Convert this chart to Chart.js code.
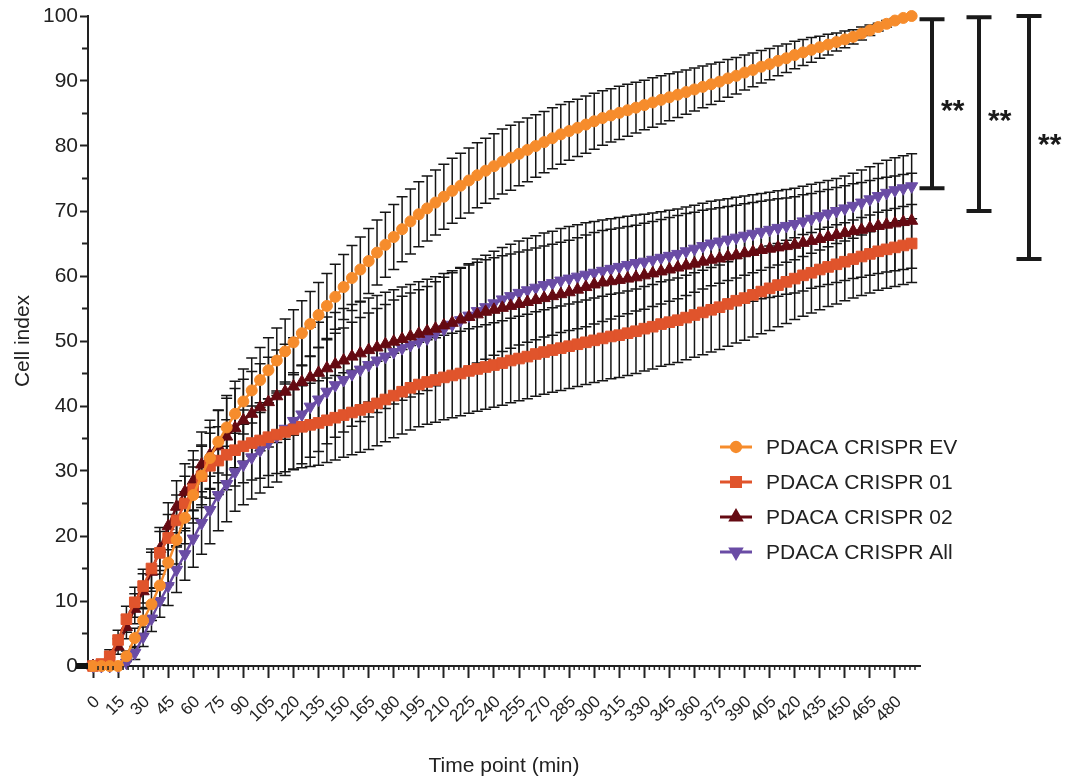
<!DOCTYPE html>
<html>
<head>
<meta charset="utf-8">
<script src="https://cdn.jsdelivr.net/npm/chart.js@4.4.1/dist/chart.umd.min.js"></script>
<style>
  body { margin: 0; background: #fff; }
  #contenedor { width: 1075px; height: 780px; }
</style>
</head>
<body>
<div id="contenedor"><canvas id="grafico"></canvas></div>
<script>
// tiempos (min), un punto cada 5 min
const tiempos = [
  0, 5, 10, 15, 20, 25, 30, 35, 40, 45,
  50, 55, 60, 65, 70, 75, 80, 85, 90, 95,
  100, 105, 110, 115, 120, 125, 130, 135, 140, 145,
  150, 155, 160, 165, 170, 175, 180, 185, 190, 195,
  200, 205, 210, 215, 220, 225, 230, 235, 240, 245,
  250, 255, 260, 265, 270, 275, 280, 285, 290, 295,
  300, 305, 310, 315, 320, 325, 330, 335, 340, 345,
  350, 355, 360, 365, 370, 375, 380, 385, 390, 395,
  400, 405, 410, 415, 420, 425, 430, 435, 440, 445,
  450, 455, 460, 465, 470, 475, 480, 485, 490
]
const ticksX = [0, 15, 30, 45, 60, 75, 90, 105, 120, 135, 150, 165, 180, 195, 210, 225, 240,
  255, 270, 285, 300, 315, 330, 345, 360, 375, 390, 405, 420, 435, 450, 465, 480]
const ticksY = [0, 10, 20, 30, 40, 50, 60, 70, 80, 90, 100]

const nombres = ['PDACA CRISPR EV', 'PDACA CRISPR 01', 'PDACA CRISPR 02', 'PDACA CRISPR All']

const valoresEV = [
  0, 0, 0, 0, 1.5, 4.3, 7, 9.5, 12.4, 15.9,
  19.4, 22.8, 26.3, 29.3, 32, 34.5, 36.7, 38.8, 40.7, 42.4,
  44, 45.5, 47, 48.4, 49.8, 51.2, 52.6, 54, 55.4, 56.8,
  58.3, 59.7, 61, 62.3, 63.6, 64.8, 66, 67.2, 68.4, 69.5,
  70.4, 71.3, 72.2, 73.1, 73.9, 74.7, 75.5, 76.2, 76.9, 77.6,
  78.2, 78.8, 79.4, 80, 80.6, 81.2, 81.8, 82.3, 82.8, 83.3,
  83.8, 84.3, 84.7, 85.1, 85.5, 85.9, 86.3, 86.7, 87.1, 87.5,
  87.9, 88.3, 88.7, 89.1, 89.5, 89.9, 90.4, 90.8, 91.3, 91.7,
  92.2, 92.6, 93.1, 93.5, 94, 94.4, 94.8, 95.2, 95.6, 96,
  96.4, 96.8, 97.3, 97.8, 98.3, 98.8, 99.3, 99.7, 100
]
const errorEV = [
  0, 0, 0, 0, 0.8, 1.5, 2, 2.5, 3, 3.4,
  3.7, 4, 4.3, 4.5, 4.7, 4.8, 4.9, 5, 5, 5,
  5, 5, 5, 5, 5, 5, 5, 5, 5, 5,
  5, 5, 5, 5, 5, 5, 5, 5, 5, 5,
  5, 5, 5, 5, 5, 5, 5, 5, 5, 5,
  5, 4.9, 4.9, 4.8, 4.7, 4.7, 4.6, 4.5, 4.4, 4.4,
  4.3, 4.2, 4.1, 4.1, 4, 3.9, 3.8, 3.8, 3.7, 3.6,
  3.5, 3.4, 3.3, 3.2, 3.1, 3, 2.9, 2.8, 2.7, 2.6,
  2.5, 2.4, 2.3, 2.2, 2.1, 2, 1.9, 1.7, 1.6, 1.4,
  1.3, 1.1, 1, 0.8, 0.6, 0.5, 0.3, 0.2, 0
]

const valores01 = [
  0, 0.3, 1.5, 4, 7.2, 9.8, 12.3, 15, 17.4, 19.7,
  22.4, 25, 27.2, 29.2, 30.8, 31.6, 32.5, 33.2, 33.8, 34.3,
  34.7, 35.2, 35.6, 36, 36.4, 36.8, 37.1, 37.4, 37.8, 38.2,
  38.6, 39, 39.4, 39.8, 40.4, 41, 41.6, 42.2, 42.8, 43.3,
  43.7, 44, 44.4, 44.7, 45, 45.4, 45.7, 46, 46.3, 46.6,
  47, 47.3, 47.6, 48, 48.3, 48.6, 48.9, 49.2, 49.5, 49.8,
  50.1, 50.4, 50.7, 50.9, 51.2, 51.5, 51.9, 52.2, 52.6, 52.9,
  53.2, 53.6, 54, 54.4, 54.8, 55.2, 55.7, 56.2, 56.6, 57.1,
  57.6, 58.1, 58.6, 59.1, 59.6, 60.1, 60.5, 61, 61.4, 61.8,
  62.2, 62.6, 63, 63.4, 63.8, 64.1, 64.4, 64.7, 65
]
const error01 = [
  0, 0.5, 1, 1.5, 2, 2.3, 2.6, 3, 3.3, 3.6,
  3.9, 4.2, 4.5, 4.8, 5, 5.2, 5.4, 5.5, 5.6, 5.7,
  5.8, 5.9, 6, 6.1, 6.2, 6.3, 6.4, 6.5, 6.5, 6.5,
  6.5, 6.5, 6.5, 6.5, 6.5, 6.5, 6.5, 6.5, 6.5, 6.5,
  6.5, 6.5, 6.5, 6.5, 6.5, 6.5, 6.5, 6.5, 6.5, 6.5,
  6.5, 6.5, 6.5, 6.5, 6.5, 6.5, 6.5, 6.5, 6.5, 6.5,
  6.5, 6.5, 6.5, 6.5, 6.5, 6.5, 6.5, 6.5, 6.5, 6.5,
  6.5, 6.5, 6.5, 6.5, 6.5, 6.5, 6.5, 6.5, 6.5, 6.5,
  6.5, 6.5, 6.4, 6.4, 6.3, 6.3, 6.2, 6.2, 6.1, 6.1,
  6, 6, 6, 6, 6, 6, 6, 6, 6
]

const valores02 = [
  0, 0, 0.8, 3, 6, 8.8, 11.5, 14.5, 18, 21.5,
  24.5, 26.8, 28.5, 31, 32.5, 33.8, 35.3, 36.6, 37.8, 38.8,
  39.8, 40.6, 41.5, 42.2, 43, 43.7, 44.4, 45.1, 45.8, 46.4,
  47, 47.6, 48.1, 48.6, 49, 49.5, 49.9, 50.3, 50.7, 51.1,
  51.5, 51.9, 52.4, 52.8, 53.3, 53.7, 54.1, 54.5, 54.8, 55.1,
  55.4, 55.7, 56, 56.3, 56.6, 56.9, 57.2, 57.5, 57.9, 58.3,
  58.7, 59, 59.2, 59.4, 59.6, 59.8, 60.1, 60.4, 60.7, 61,
  61.3, 61.6, 61.9, 62.2, 62.5, 62.7, 63, 63.2, 63.5, 63.7,
  64, 64.2, 64.4, 64.6, 64.8, 65.1, 65.4, 65.7, 66, 66.3,
  66.6, 66.9, 67.1, 67.4, 67.7, 67.9, 68.1, 68.3, 68.5
]
const error02 = [
  0, 0, 0.5, 1.2, 1.8, 2.3, 2.7, 3, 3.3, 3.6,
  4, 4.3, 4.6, 5, 5.3, 5.6, 5.9, 6.1, 6.3, 6.5,
  6.7, 6.9, 7.1, 7.3, 7.5, 7.6, 7.7, 7.8, 7.9, 8,
  8, 8, 8, 8, 8, 8, 8, 8, 8, 8,
  8, 8, 8, 8, 8, 8, 8, 8, 8, 8,
  8, 8, 8, 8, 8, 8, 8, 8, 8, 8,
  8, 8, 8, 8, 8, 8, 8, 8, 8, 8,
  8, 8, 7.9, 7.9, 7.8, 7.8, 7.7, 7.7, 7.6, 7.6,
  7.5, 7.5, 7.5, 7.4, 7.4, 7.4, 7.3, 7.3, 7.3, 7.3,
  7.3, 7.3, 7.3, 7.3, 7.3, 7.3, 7.3, 7.3, 7.3
]

const valoresAll = [
  0, 0, 0, 0, 0.5, 2, 4.5, 7.3, 10, 12.3,
  14.8, 17.2, 19.6, 22, 24, 26.3, 28, 29.8, 31, 32.1,
  33.2, 34.3, 35.3, 36.5, 37.7, 38.7, 39.9, 41, 42.2, 43.2,
  44, 44.9, 45.6, 46.3, 47, 47.6, 48.3, 48.9, 49.4, 49.9,
  50.4, 51.1, 51.8, 52.5, 53.2, 53.9, 54.6, 55.2, 55.8, 56.4,
  56.9, 57.4, 57.8, 58.2, 58.6, 58.9, 59.3, 59.6, 59.9, 60.2,
  60.5, 60.8, 61.1, 61.4, 61.7, 62, 62.2, 62.5, 62.8, 63.1,
  63.4, 63.8, 64.2, 64.6, 65, 65.3, 65.6, 65.9, 66.2, 66.5,
  66.8, 67.1, 67.4, 67.7, 68, 68.4, 68.8, 69.2, 69.6, 70,
  70.4, 70.8, 71.3, 71.8, 72.3, 72.8, 73.2, 73.5, 73.8
]
const errorAll = [
  0, 0, 0, 0, 0.5, 1, 1.5, 2, 2.5, 3,
  3.5, 4, 4.4, 4.8, 5.2, 5.5, 5.8, 6, 6.2, 6.4,
  6.6, 6.8, 7, 7.2, 7.4, 7.6, 7.8, 8, 8, 8,
  8, 8, 8, 8, 8, 8, 8, 8, 8, 8,
  8, 8, 8, 8, 8, 8, 8, 8, 8, 8,
  8, 8, 8, 8, 8, 8, 8, 8, 8, 8,
  7.9, 7.8, 7.7, 7.6, 7.5, 7.4, 7.3, 7.2, 7.1, 7,
  6.9, 6.8, 6.7, 6.6, 6.5, 6.4, 6.3, 6.2, 6.1, 6,
  5.9, 5.8, 5.7, 5.6, 5.5, 5.4, 5.3, 5.2, 5.1, 5,
  5, 5, 5, 5, 5, 5, 5, 5, 5
]

// corchetes de significancia (valores del eje y)
const sigArriba = [99.5, 99.8, 100]
const sigAbajo = [73.5, 70, 62.6]
const sigTexto = ['**', '**', '**']

const fuente = "'Liberation Sans', Arial, sans-serif"
const colorTexto = '#222'

const barrasError = {
  id: 'barrasError',
  beforeDatasetsDraw(chart) {
    const { ctx, scales: { x, y } } = chart
    ctx.save()
    ctx.strokeStyle = '#151515'
    ctx.lineWidth = 1.5
    chart.data.datasets.forEach(ds => {
      ds.data.forEach((v, i) => {
        const e = ds.errores[i]
        if (!e) return
        const px = x.getPixelForValue(tiempos[i])
        const arriba = y.getPixelForValue(v + e)
        const abajo = y.getPixelForValue(v - e)
        ctx.beginPath()
        ctx.moveTo(px, arriba); ctx.lineTo(px, abajo)
        ctx.moveTo(px - 5.5, arriba); ctx.lineTo(px + 5.5, arriba)
        ctx.moveTo(px - 5.5, abajo); ctx.lineTo(px + 5.5, abajo)
        ctx.stroke()
      })
    })
    ctx.restore()
  }
}

const extras = {
  id: 'extras',
  afterDraw(chart) {
    const { ctx, chartArea: ca, scales: { x, y } } = chart
    ctx.save()
    ctx.strokeStyle = colorTexto

    // ticks menores eje x (cada 3 min)
    ctx.lineWidth = 1.5
    ctx.beginPath()
    for (let t = 3; t <= 492; t += 3) {
      if (t % 15 === 0) continue
      const px = x.getPixelForValue(t)
      ctx.moveTo(px, ca.bottom); ctx.lineTo(px, ca.bottom + 4)
    }
    ctx.stroke()

    // ticks menores eje y
    ctx.lineWidth = 2
    ctx.beginPath()
    for (let v = 5; v < 100; v += 10) {
      const py = y.getPixelForValue(v)
      ctx.moveTo(ca.left - 6, py); ctx.lineTo(ca.left, py)
    }
    ctx.stroke()

    // marca gruesa en 0
    ctx.fillStyle = '#111'
    ctx.fillRect(ca.left - 12, y.getPixelForValue(0) - 3, 12, 6)

    // corchetes
    const desplazamientos = [12, 59, 109]
    ctx.strokeStyle = '#1a1a1a'
    ctx.lineWidth = 4
    ctx.font = 'bold 30px ' + fuente
    ctx.fillStyle = '#1a1a1a'
    ctx.textAlign = 'left'
    ctx.textBaseline = 'alphabetic'
    sigArriba.forEach((top, i) => {
      const bx = ca.right + desplazamientos[i]
      const y1 = y.getPixelForValue(top)
      const y2 = y.getPixelForValue(sigAbajo[i])
      ctx.beginPath()
      ctx.moveTo(bx, y1); ctx.lineTo(bx, y2)
      ctx.moveTo(bx - 12.5, y1); ctx.lineTo(bx + 12.5, y1)
      ctx.moveTo(bx - 12.5, y2); ctx.lineTo(bx + 12.5, y2)
      ctx.stroke()
      ctx.fillText(sigTexto[i], bx + 9, (y1 + y2) / 2 + 16)
    })

    // leyenda
    ctx.font = '21px ' + fuente
    ctx.textBaseline = 'middle'
    chart.data.datasets.forEach((ds, i) => {
      const ly = 447 + i * 35
      ctx.strokeStyle = ds.borderColor
      ctx.fillStyle = ds.backgroundColor
      ctx.lineWidth = 3
      ctx.beginPath()
      ctx.moveTo(720, ly); ctx.lineTo(752, ly)
      ctx.stroke()
      Chart.helpers.drawPoint(ctx, {
        pointStyle: ds.pointStyle, rotation: ds.pointRotation || 0,
        radius: ds.pointRadius * 0.85, borderWidth: 1
      }, 736, ly)
      ctx.fillStyle = colorTexto
      ctx.fillText(ds.label, 766, ly + 1)
    })
    ctx.restore()
  }
}

const serie = (label, data, errores, color, estilo, radio, rotacion) => ({
  label, data, errores,
  borderColor: color,
  backgroundColor: color,
  pointBackgroundColor: color,
  pointBorderColor: color,
  pointStyle: estilo,
  pointRadius: radio,
  pointRotation: rotacion,
  pointBorderWidth: 1,
  borderWidth: 2.5,
  tension: 0,
  clip: false
})

new Chart(document.getElementById('grafico'), {
  type: 'line',
  data: {
    labels: tiempos,
    datasets: [
      serie(nombres[0], valoresEV, errorEV, '#F68C2C', 'circle', 5.5, 0),
      serie(nombres[1], valores01, error01, '#E0542C', 'rect', 7.5, 0),
      serie(nombres[2], valores02, error02, '#650A12', 'triangle', 7, 0),
      serie(nombres[3], valoresAll, errorAll, '#6A4CA5', 'triangle', 7, 180)
    ]
  },
  options: {
    responsive: true,
    maintainAspectRatio: false,
    animation: false,
    layout: { padding: { left: 7, right: 155, top: 16, bottom: 0 } },
    plugins: { legend: { display: false }, tooltip: { enabled: false } },
    scales: {
      x: {
        type: 'linear',
        min: -3,
        max: 495,
        afterBuildTicks: s => { s.ticks = ticksX.map(v => ({ value: v })) },
        afterFit: s => { s.height = 114 },
        grid: { drawOnChartArea: false, tickLength: 12, tickWidth: 2, tickColor: colorTexto },
        border: { color: colorTexto, width: 2 },
        ticks: {
          minRotation: 45, maxRotation: 45, autoSkip: false, padding: 14, labelOffset: 4,
          color: colorTexto, font: { family: fuente, size: 17 }
        },
        title: {
          display: true, text: 'Time point (min)', color: colorTexto,
          padding: { top: 4, bottom: 1 },
          font: { family: fuente, size: 21 }
        }
      },
      y: {
        min: 0,
        max: 100,
        afterBuildTicks: s => { s.ticks = ticksY.map(v => ({ value: v })) },
        afterFit: s => { s.width = 81 },
        grid: { drawOnChartArea: false, tickLength: 8, tickWidth: 2, tickColor: colorTexto },
        border: { color: colorTexto, width: 2 },
        ticks: { padding: 2, color: colorTexto, font: { family: fuente, size: 21 } },
        title: {
          display: true, text: 'Cell index', color: colorTexto,
          font: { family: fuente, size: 21 }
        }
      }
    }
  },
  plugins: [barrasError, extras]
})
</script>
</body>
</html>
